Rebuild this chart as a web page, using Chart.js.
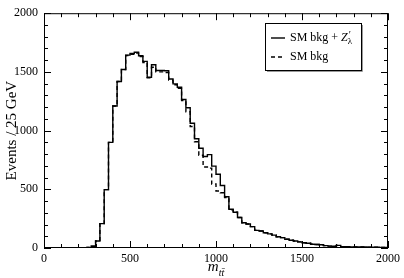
<!DOCTYPE html>
<html>
<head>
<meta charset="utf-8">
<script src="https://cdn.jsdelivr.net/npm/chart.js@4/dist/chart.umd.min.js"></script>
<style>
    html, body { margin: 0; padding: 0; background: #fff; }
</style>
</head>
<body>
<canvas id="histChart" width="404" height="278"></canvas>
<script>
// bins are 25 GeV wide, from 0 to 2000
const binWidth = 25;

// SM bkg + Z'_lambda (solid)
const sigPlusBkg = [
    0, 0, 0, 0, 0, 0, 0, 0, 0, 0,
    5, 15, 60, 208, 497, 900, 1210, 1418, 1520, 1643,
    1657, 1668, 1638, 1590, 1455, 1561, 1512, 1512, 1510, 1440,
    1398, 1369, 1265, 1195, 1062, 930, 850, 780, 795, 697,
    628, 532, 436, 330, 305, 260, 215, 205, 182, 150,
    145, 130, 120, 110, 96, 88, 75, 66, 60, 52,
    45, 40, 32, 30, 28, 20, 16, 15, 22, 12,
    11, 10, 9, 8, 8, 7, 6, 6, 5, 5
];

// SM bkg only (dashed)
const smBkg = [
    0, 0, 0, 0, 0, 0, 0, 0, 0, 0,
    5, 15, 60, 208, 497, 900, 1210, 1418, 1520, 1640,
    1650, 1660, 1630, 1580, 1450, 1540, 1500, 1500, 1495, 1430,
    1390, 1360, 1255, 1160, 1035, 905, 790, 690, 680, 545,
    485, 470, 430, 325, 305, 260, 215, 205, 182, 150,
    145, 130, 120, 110, 96, 88, 75, 66, 60, 52,
    45, 40, 32, 30, 28, 20, 16, 15, 22, 12,
    11, 10, 9, 8, 8, 7, 6, 6, 5, 5
];

const xTicks = [0, 500, 1000, 1500, 2000];
const yTicks = [0, 500, 1000, 1500, 2000];
const minorStep = 100;

const serif = '"Liberation Serif", "DejaVu Serif", serif';

// points at the left edge of each bin plus the closing edge
const toSteps = (vals) => vals.map((v, i) => ({ x: i * binWidth, y: v }))
    .concat([{ x: vals.length * binWidth, y: vals[vals.length - 1] }]);

// frame, inward ticks, axis titles, legend
const decorations = {
    id: 'decorations',
    afterDraw(chart) {
        const { ctx, chartArea: a, scales: { x, y } } = chart;
        ctx.save();
        ctx.strokeStyle = '#000';
        ctx.lineWidth = 1;
        ctx.strokeRect(a.left + 0.5, a.top + 0.5, a.right - a.left - 1, a.bottom - a.top - 1);

        ctx.beginPath();
        for (let v = x.min; v <= x.max; v += minorStep) {
            const px = Math.round(x.getPixelForValue(v)) + 0.5;
            const len = v % 500 === 0 ? 7 : 4;
            ctx.moveTo(px, a.bottom); ctx.lineTo(px, a.bottom - len);
            ctx.moveTo(px, a.top); ctx.lineTo(px, a.top + len);
        }
        for (let v = y.min; v <= y.max; v += minorStep) {
            const py = Math.round(y.getPixelForValue(v)) + 0.5;
            const len = v % 500 === 0 ? 7 : 4;
            ctx.moveTo(a.left, py); ctx.lineTo(a.left + len, py);
            ctx.moveTo(a.right, py); ctx.lineTo(a.right - len, py);
        }
        ctx.stroke();

        // y title
        ctx.fillStyle = '#000';
        ctx.font = '15px ' + serif;
        ctx.textAlign = 'center';
        ctx.textBaseline = 'middle';
        ctx.save();
        ctx.translate(12, (a.top + a.bottom) / 2);
        ctx.rotate(-Math.PI / 2);
        ctx.fillText('Events / 25 GeV', 0, 0);
        ctx.restore();

        // x title: m_{t tbar}
        const cx = (a.left + a.right) / 2;
        ctx.textAlign = 'left';
        ctx.textBaseline = 'alphabetic';
        ctx.font = 'italic 15px ' + serif;
        const mW = ctx.measureText('m').width;
        ctx.font = 'italic 10px ' + serif;
        const subW = ctx.measureText('tt').width;
        const x0 = cx - (mW + subW) / 2;
        ctx.font = 'italic 15px ' + serif;
        ctx.fillText('m', x0, 271);
        ctx.font = 'italic 10px ' + serif;
        ctx.fillText('tt\u0304', x0 + mW, 276);

        // legend
        const lx = 265, ly = 23, lw = 96, lh = 47;
        ctx.fillStyle = '#fff';
        ctx.fillRect(lx, ly, lw, lh);
        ctx.strokeStyle = '#999';
        ctx.beginPath();
        ctx.moveTo(lx + lw + 1.5, ly + 2); ctx.lineTo(lx + lw + 1.5, ly + lh + 1.5); ctx.lineTo(lx + 2, ly + lh + 1.5);
        ctx.stroke();
        ctx.strokeStyle = '#000';
        ctx.strokeRect(lx + 0.5, ly + 0.5, lw, lh);

        chart.data.datasets.forEach((ds, i) => {
            const rowY = ly + 15 + i * 19;
            ctx.save();
            ctx.lineWidth = ds.borderWidth;
            ctx.setLineDash(ds.borderDash || []);
            ctx.beginPath();
            ctx.moveTo(lx + 6, rowY); ctx.lineTo(lx + 20, rowY);
            ctx.stroke();
            ctx.restore();
            ctx.fillStyle = '#000';
            ctx.font = '12px ' + serif;
            ctx.textBaseline = 'middle';
            let tx = lx + 25;
            ctx.fillText('SM bkg', tx, rowY);
            if (i === 0) {
                tx += ctx.measureText('SM bkg + ').width;
                ctx.fillText('+', tx - ctx.measureText('+ ').width, rowY);
                ctx.font = 'italic 12px ' + serif;
                ctx.fillText('Z', tx, rowY);
                const zW = ctx.measureText('Z').width;
                ctx.font = '10px ' + serif;
                ctx.fillText('\u2032', tx + zW + 1, rowY - 3);
                ctx.font = '9px ' + serif;
                ctx.fillText('\u03bb', tx + zW, rowY + 4);
            }
        });
        ctx.restore();
    }
};

new Chart(document.getElementById('histChart'), {
    type: 'line',
    data: {
        datasets: [
            {
                label: 'SM bkg + Z\u2032\u03bb',
                data: toSteps(sigPlusBkg),
                stepped: true,
                borderColor: '#000',
                borderWidth: 1.4,
                pointRadius: 0,
                fill: false
            },
            {
                label: 'SM bkg',
                data: toSteps(smBkg),
                stepped: true,
                borderColor: '#000',
                borderWidth: 1.4,
                borderDash: [4, 3],
                pointRadius: 0,
                fill: false
            }
        ]
    },
    options: {
        responsive: false,
        animation: false,
        layout: { padding: { top: 5, right: 12, left: 0, bottom: 0 } },
        plugins: { legend: { display: false }, tooltip: { enabled: false } },
        scales: {
            x: {
                type: 'linear',
                min: 0,
                max: 2000,
                afterBuildTicks: (s) => { s.ticks = xTicks.map(v => ({ value: v })); },
                afterFit: (s) => { s.height = 30; },
                grid: { display: false, drawTicks: false },
                border: { display: false },
                ticks: { color: '#000', font: { family: serif, size: 12 }, padding: 4, maxRotation: 0, callback: (v) => String(v) }
            },
            y: {
                min: 0,
                max: 2000,
                afterBuildTicks: (s) => { s.ticks = yTicks.map(v => ({ value: v })); },
                afterFit: (s) => { s.width = 44; },
                grid: { display: false, drawTicks: false },
                border: { display: false },
                ticks: { color: '#000', font: { family: serif, size: 12 }, padding: 6, callback: (v) => String(v) }
            }
        }
    },
    plugins: [decorations]
});
</script>
</body>
</html>
